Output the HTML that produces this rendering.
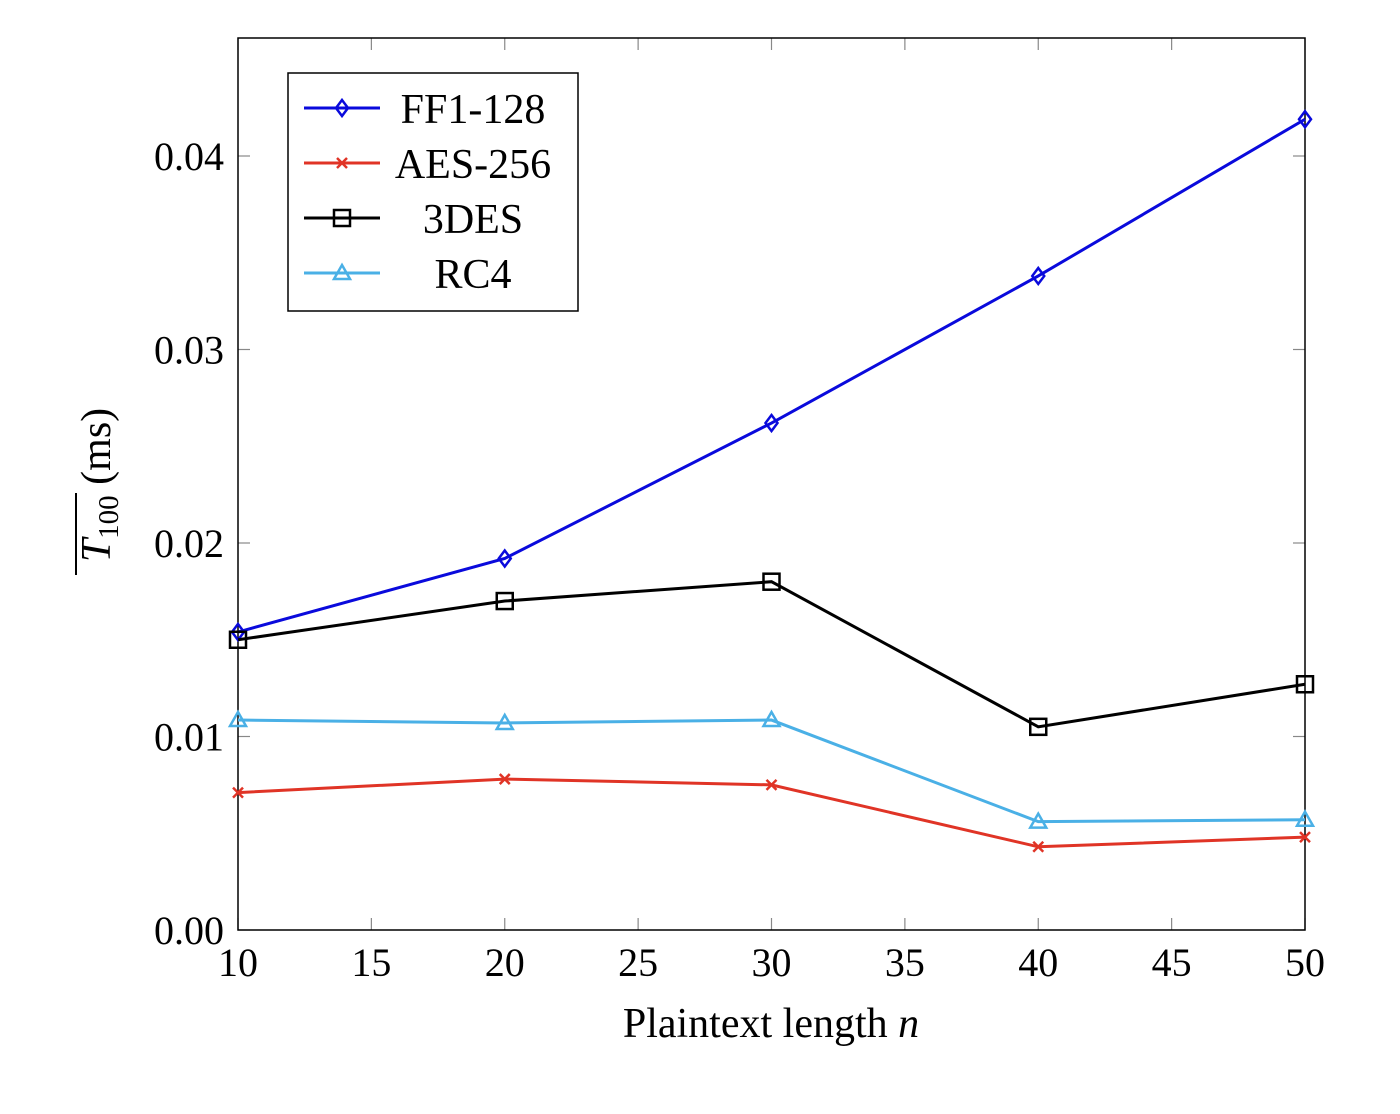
<!DOCTYPE html>
<html><head><meta charset="utf-8"><style>
html,body{margin:0;padding:0;background:#fff;}
svg text{font-family:"Liberation Serif",serif;fill:#000;}
</style></head><body>
<svg id="chart" width="1400" height="1109" xmlns="http://www.w3.org/2000/svg"></svg>
<script>
const categories=[10,20,30,40,50];
const ff1=[0.0154,0.0192,0.0262,0.0338,0.0419];
const aes=[0.0071,0.0078,0.0075,0.0043,0.0048];
const des3=[0.0150,0.0170,0.0180,0.0105,0.0127];
const rc4=[0.01085,0.0107,0.01085,0.0056,0.0057];
const xTicks=[10,15,20,25,30,35,40,45,50];
const yTicks=[0,0.01,0.02,0.03,0.04];
const yTickLabels=["0.00","0.01","0.02","0.03","0.04"];
const seriesNames=["FF1-128","AES-256","3DES","RC4"];

const L=238,R=1305,T=38,B=930;
function sx(v){return L+(v-10)/40*(R-L);}
function sy(v){return B-v/0.04*(B-156);}
const svg=document.getElementById('chart');
const NS="http://www.w3.org/2000/svg";
function mk(tag,attrs,parent){const e=document.createElementNS(NS,tag);for(const k in attrs)e.setAttribute(k,attrs[k]);(parent||svg).appendChild(e);return e;}

xTicks.forEach(t=>{
  const x=sx(t);
  const g1=mk('line',{x1:x,y1:B,x2:x,y2:B-12,stroke:'#888','stroke-width':1.2});
  
  
  mk('line',{x1:x,y1:T,x2:x,y2:T+12,stroke:'#888','stroke-width':1.2});
  const tx=mk('text',{x:x,y:976,'font-size':40,'text-anchor':'middle'});
  tx.textContent=t;
  
  
});
yTicks.forEach((t,i)=>{
  const y=sy(t);
  mk('line',{x1:L,y1:y,x2:L+12,y2:y,stroke:'#888','stroke-width':1.2});
  mk('line',{x1:R,y1:y,x2:R-12,y2:y,stroke:'#888','stroke-width':1.2});
  const tx=mk('text',{x:224,y:y+14,'font-size':40,'text-anchor':'end'});
  tx.textContent=yTickLabels[i];
  
  
});
const frame=mk('rect',{x:L,y:T,width:R-L,height:B-T,fill:'none',stroke:'#000','stroke-width':1.5});



function marker(kind,x,y,color,parent){
  if(kind==='diamond') mk('polygon',{points:`${x},${y-8} ${x+6},${y} ${x},${y+8} ${x-6},${y}`,fill:'none',stroke:color,'stroke-width':2.5},parent);
  else if(kind==='cross'){mk('line',{x1:x-5,y1:y-5,x2:x+5,y2:y+5,stroke:color,'stroke-width':2.5},parent);mk('line',{x1:x-5,y1:y+5,x2:x+5,y2:y-5,stroke:color,'stroke-width':2.5},parent);}
  else if(kind==='square') mk('rect',{x:x-8,y:y-8,width:16,height:16,fill:'none',stroke:color,'stroke-width':2.5},parent);
  else mk('polygon',{points:`${x},${y-8} ${x+8},${y+6} ${x-8},${y+6}`,fill:'none',stroke:color,'stroke-width':2.5},parent);
}
const series=[[ff1,'#0a0adc','diamond'],[aes,'#e03426','cross'],[des3,'#000','square'],[rc4,'#4ab0e6','triangle']];
const sNames=['series-ff1-128','series-aes-256','series-3des','series-rc4'];
series.forEach((s,i)=>{
  const g=mk('g',{});
  
  
  const pts=s[0].map((v,j)=>sx(categories[j])+','+sy(v)).join(' ');
  mk('polyline',{points:pts,fill:'none',stroke:s[1],'stroke-width':3},g);
  s[0].forEach((v,j)=>marker(s[2],sx(categories[j]),sy(v),s[1],g));
});

const lg=mk('g',{});


mk('rect',{x:288,y:73,width:290,height:238,fill:'#fff',stroke:'#000','stroke-width':1.5},lg);
series.forEach((s,i)=>{
  const y=108+i*55;
  const e=mk('g',{},lg);
  
  
  mk('line',{x1:304,y1:y,x2:380,y2:y,stroke:s[1],'stroke-width':3},e);
  marker(s[2],342,y,s[1],e);
  const t=mk('text',{x:473,y:y+15,'font-size':42,'text-anchor':'middle'},e);
  t.textContent=seriesNames[i];
});

const xl=mk('text',{x:771,y:1037,'font-size':42,'text-anchor':'middle'});
xl.innerHTML='Plaintext length <tspan font-style="italic">n</tspan>';


const yg=mk('g',{transform:'translate(110,485) rotate(-90)'});


const yl=mk('text',{x:0,y:0,'font-size':42,'text-anchor':'middle'},yg);
yl.innerHTML='<tspan font-style="italic">T</tspan><tspan font-size="29" dy="8">100</tspan><tspan dy="-8"> (ms)</tspan>';
mk('line',{x1:-90,y1:-34,x2:-8,y2:-34,stroke:'#000','stroke-width':2},yg);
</script>
</body></html>
